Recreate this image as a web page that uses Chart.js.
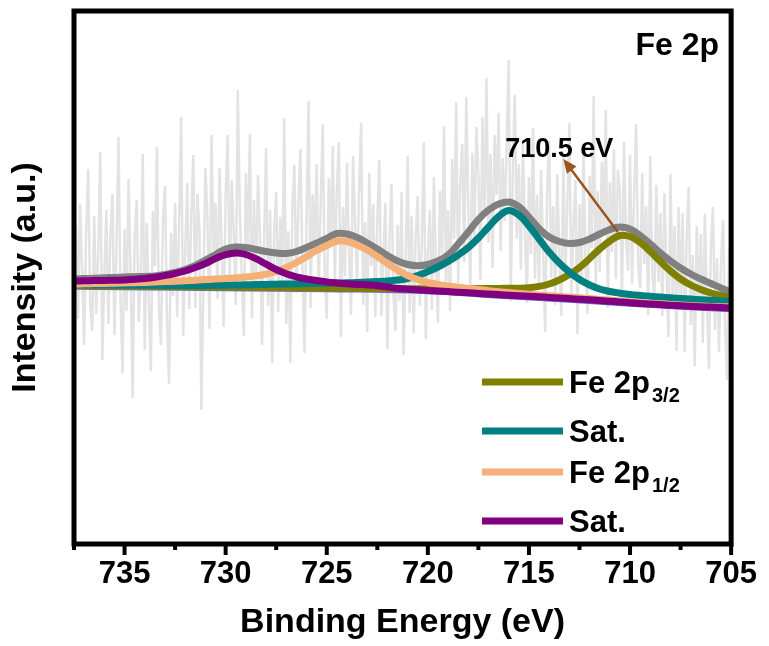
<html>

<head>
    <script src="https://cdn.jsdelivr.net/npm/chart.js@4.4.0/dist/chart.umd.min.js"></script>

    <style>
        body {
            margin: 0;
            background-color: #ffffff;
        }

        canvas {
            display: block;
        }
    </style>

</head>

<body>
    <canvas id="xpsChart" width="769" height="646"></canvas>
</body>
<script>

    // binding energy grid of the fitted curves (eV)
    var fitEnergy = [
        737.5, 737, 736.5, 736, 735.5, 735, 734.5, 734, 733.5, 733,
        732.5, 732, 731.5, 731, 730.5, 730, 729.5, 729, 728.5, 728,
        727.5, 727, 726.5, 726, 725.5, 725, 724.5, 724, 723.5, 723,
        722.5, 722, 721.5, 721, 720.5, 720, 719.5, 719, 718.5, 718,
        717.5, 717, 716.5, 716, 715.5, 715, 714.5, 714, 713.5, 713,
        712.5, 712, 711.5, 711, 710.5, 710, 709.5, 709, 708.5, 708,
        707.5, 707, 706.5, 706, 705.5, 705
    ];

    // fitted envelope (grey)
    var envelope = [
        265, 265.4, 265.8, 266.2, 266.6, 267, 267.3, 267.6, 268, 269.5,
        271.5, 274.5, 278.5, 284, 289.5, 295, 297, 296.5, 294.5, 292.5,
        291, 290.5, 292.5, 296.5, 301, 305.5, 310.5, 310, 306.5, 301,
        295, 288.5, 283, 279.5, 278.3, 279.5, 283, 289, 300, 312,
        324.5, 334, 340, 342, 337.5, 327, 315.5, 307, 302.5, 300.5,
        301.5, 305, 310, 314.5, 317, 315, 308.5, 300, 291, 283,
        276, 270, 265, 260.5, 256, 252
    ];

    // Fe 2p3/2 component
    var fe2p32 = [
        258.5, 258.4, 258.3, 258.2, 258.1, 258, 257.9, 257.8, 257.7, 257.6,
        257.5, 257.4, 257.3, 257.2, 257.1, 257, 256.9, 256.8, 256.7, 256.6,
        256.5, 256.4, 256.3, 256.2, 256.1, 256, 255.9, 255.8, 255.7, 255.6,
        255.5, 255.4, 255.3, 255.2, 255.2, 255.2, 255.2, 255.2, 255.2, 255.3,
        255.4, 255.5, 255.6, 255.7, 255.8, 256.2, 257.6, 260, 264, 269.5,
        276.5, 285.5, 295, 303, 308.5, 307.5, 301.5, 292.5, 282.5, 273,
        265, 259, 254.5, 251, 248.5, 246
    ];

    // satellite of Fe 2p3/2
    var sat32 = [
        259.5, 259.4, 259.3, 259.2, 259.1, 259, 258.9, 258.8, 258.7, 258.6,
        258.6, 258.6, 258.6, 258.6, 258.7, 258.8, 259, 259.2, 259.4, 259.6,
        259.8, 260, 260.2, 260.4, 260.6, 260.8, 261, 261.2, 261.5, 261.9,
        262.4, 263, 264, 265.5, 268.5, 272.5, 277, 282.5, 289, 296.5,
        306, 317, 327.5, 333.5, 329, 318, 305, 292, 281, 272,
        264.5, 259, 255, 252.5, 250.8, 249.6, 248.6, 247.7, 246.9, 246.2,
        245.5, 244.9, 244.3, 243.7, 243.1, 242.5
    ];

    // Fe 2p1/2 component
    var fe2p12 = [
        260, 260.2, 260.4, 260.6, 260.8, 261, 261.3, 261.6, 262, 262.4,
        262.8, 263.3, 263.8, 264.5, 265, 265.5, 266.2, 267, 268.2, 269.8,
        272.5, 276.5, 281.5, 287.5, 293.5, 298.5, 302.8, 302.5, 299, 294,
        287.5, 280.5, 274, 268.5, 264.5, 261.5, 259.5, 258, 256.8, 255.6,
        254.5, 253.3, 252.3, 251.4, 250.6, 249.8, 249, 248.3, 247.6, 247,
        246.2, 245.4, 244.6, 243.8, 243, 242.2, 241.5, 240.8, 240.2, 239.6,
        239, 238.5, 238, 237.6, 237.3, 237
    ];

    // satellite of Fe 2p1/2
    var sat12 = [
        263, 263.2, 263.4, 263.6, 263.8, 264, 264.8, 265.6, 266.8, 268.5,
        270.5, 273, 276.5, 280.5, 285.5, 289.3, 291, 289.5, 285.3, 279.8,
        274.5, 270.3, 267.2, 265, 263.5, 262, 261, 260.2, 259.6, 259,
        258.2, 257, 255.6, 254.8, 254.2, 253.5, 253, 252.4, 251.8, 251.2,
        250.6, 250, 249.4, 248.8, 248.2, 247.7, 247.2, 246.6, 246, 245.4,
        244.8, 244.2, 243.6, 242.8, 242, 241.3, 240.6, 240, 239.4, 238.8,
        238.3, 237.8, 237.3, 236.9, 236.5, 236
    ];

    // background line
    var bgEnergy = [737.5, 730, 725, 720, 716, 713, 710, 707, 705];
    var background = [255, 253.5, 252.5, 250.5, 245.5, 242, 238, 234.5, 232.5];

    // raw spectrum, 0.1 eV steps starting at 737.5 eV
    var rawStart = 737.5;
    var rawStep = 0.1;
    var rawCounts = [
        261, 319, 225, 340, 273, 199, 312, 375, 241, 213,
        328, 230, 293, 392, 184, 269, 334, 220, 307, 350,
        209, 296, 407, 245, 171, 315, 233, 365, 273, 146,
        308, 344, 222, 266, 390, 194, 321, 243, 173, 333,
        278, 397, 236, 199, 325, 358, 224, 160, 311, 248,
        341, 227, 322, 427, 208, 293, 361, 235, 328, 389,
        236, 350, 316, 134, 263, 376, 326, 215, 409, 293,
        341, 245, 376, 298, 217, 350, 409, 263, 364, 311,
        239, 454, 335, 266, 208, 371, 299, 410, 226, 344,
        252, 369, 306, 199, 303, 396, 238, 334, 181, 315,
        352, 232, 327, 259, 426, 220, 313, 181, 339, 379,
        251, 344, 395, 273, 191, 324, 443, 236, 350, 297,
        380, 252, 339, 420, 270, 225, 366, 299, 398, 264,
        355, 402, 207, 337, 268, 381, 295, 229, 388, 322,
        260, 358, 421, 239, 322, 212, 371, 278, 340, 227,
        323, 384, 228, 284, 341, 195, 306, 360, 248, 213,
        319, 243, 352, 189, 282, 388, 231, 328, 211, 309,
        348, 238, 300, 402, 205, 291, 334, 234, 367, 276,
        221, 353, 290, 418, 254, 334, 233, 385, 305, 442,
        261, 360, 400, 282, 447, 339, 255, 391, 306, 417,
        370, 264, 427, 327, 466, 301, 390, 276, 409, 349,
        431, 293, 386, 323, 402, 484, 243, 371, 449, 305,
        380, 274, 401, 314, 241, 367, 290, 416, 265, 349,
        260, 374, 293, 212, 352, 403, 266, 338, 239, 370,
        292, 228, 387, 268, 339, 421, 246, 318, 364, 210,
        340, 263, 391, 277, 230, 368, 296, 448, 256, 353,
        272, 382, 310, 434, 236, 362, 292, 395, 265, 374,
        354, 242, 402, 306, 273, 389, 260, 348, 420, 279,
        256, 371, 280, 338, 229, 388, 272, 241, 359, 262,
        331, 228, 351, 274, 207, 370, 249, 318, 193, 337,
        243, 331, 192, 306, 357, 219, 289, 178, 318, 240,
        310, 201, 330, 243, 175, 298, 337, 214, 286, 192,
        281, 324, 215, 164, 297, 246
    ];

    // peak annotation
    var peakEnergy = 710.6;
    var peakLevel = 312;
    var peakText = '710.5 eV';
    var peakTextEnergy = 713.5;
    var peakTextLevel = 387;

    var legendLabels = [['Fe 2p', '3/2'], ['Sat.', ''], ['Fe 2p', '1/2'], ['Sat.', '']];
    var legendColors = ['#808000', '#008080', '#F5B078', '#800080'];

    var fontFamily = "'Liberation Sans', Arial, sans-serif";


    function toPoints(xs, ys) {
        return ys.map(function (y, i) { return { x: xs[i], y: y }; });
    }

    var rawEnergy = rawCounts.map(function (v, i) { return +(rawStart - i * rawStep).toFixed(1); });


    // frame, ticks, legend and annotations
    var decorations = {
        id: 'decorations',
        afterDraw: function (chart) {
            var ctx = chart.ctx;
            var a = chart.chartArea;
            var xs = chart.scales.x;
            var ys = chart.scales.y;

            ctx.save();
            ctx.strokeStyle = '#000';
            ctx.lineWidth = 5;
            ctx.strokeRect(a.left, a.top, a.right - a.left, a.bottom - a.top);

            // major + minor ticks
            ctx.lineWidth = 4;
            for (var v = 705; v <= 737.5; v += 2.5) {
                var px = xs.getPixelForValue(v);
                var major = v % 5 === 0;
                ctx.beginPath();
                ctx.moveTo(px, a.bottom);
                ctx.lineTo(px, a.bottom + (major ? 11 : 6));
                ctx.stroke();
            }

            // panel label
            ctx.fillStyle = '#000';
            ctx.font = 'bold 32px ' + fontFamily;
            ctx.textAlign = 'right';
            ctx.textBaseline = 'alphabetic';
            ctx.fillText('Fe 2p', a.right - 12, a.top + 44);

            // peak arrow
            var tx = xs.getPixelForValue(peakTextEnergy);
            var ty = ys.getPixelForValue(peakTextLevel);
            ctx.font = 'bold 27px ' + fontFamily;
            ctx.textAlign = 'center';
            ctx.fillText(peakText, tx, ty);

            var x0 = xs.getPixelForValue(peakEnergy), y0 = ys.getPixelForValue(peakLevel);
            var x1 = xs.getPixelForValue(713.3), y1 = ty + 2;
            var ang = Math.atan2(y1 - y0, x1 - x0);
            ctx.strokeStyle = '#99561F';
            ctx.fillStyle = '#99561F';
            ctx.lineWidth = 2.5;
            ctx.beginPath();
            ctx.moveTo(x0, y0);
            ctx.lineTo(x1 - 10 * Math.cos(ang), y1 - 10 * Math.sin(ang));
            ctx.stroke();
            ctx.beginPath();
            ctx.moveTo(x1, y1);
            ctx.lineTo(x1 - 14 * Math.cos(ang) + 6 * Math.sin(ang), y1 - 14 * Math.sin(ang) - 6 * Math.cos(ang));
            ctx.lineTo(x1 - 14 * Math.cos(ang) - 6 * Math.sin(ang), y1 - 14 * Math.sin(ang) + 6 * Math.cos(ang));
            ctx.closePath();
            ctx.fill();

            // legend
            var rowY = [382, 431, 472, 521];
            ctx.textAlign = 'left';
            for (var i = 0; i < legendLabels.length; i++) {
                var y = rowY[i];
                ctx.strokeStyle = legendColors[i];
                ctx.lineWidth = 7;
                ctx.beginPath();
                ctx.moveTo(482, y);
                ctx.lineTo(563, y);
                ctx.stroke();

                ctx.fillStyle = '#000';
                ctx.font = 'bold 31px ' + fontFamily;
                ctx.fillText(legendLabels[i][0], 569, y + 11);
                if (legendLabels[i][1]) {
                    var w = ctx.measureText(legendLabels[i][0]).width;
                    ctx.font = 'bold 20px ' + fontFamily;
                    ctx.fillText(legendLabels[i][1], 569 + w + 2, y + 20);
                }
            }
            ctx.restore();
        }
    };


    function fitLine(label, energies, values, color, width, order) {
        return {
            label: label,
            data: toPoints(energies, values),
            borderColor: color,
            borderWidth: width,
            pointRadius: 0,
            fill: false,
            tension: 0.4,
            order: order
        };
    }

    var chart = new Chart(document.getElementById('xpsChart').getContext('2d'), {
        type: 'line',
        data: {
            datasets: [
                fitLine('Sat.', fitEnergy, sat12, '#800080', 7, 0),
                fitLine('Fe 2p1/2', fitEnergy, fe2p12, '#F5B078', 7, 1),
                fitLine('Sat.', fitEnergy, sat32, '#008080', 7, 2),
                fitLine('Fe 2p3/2', fitEnergy, fe2p32, '#808000', 7, 3),
                fitLine('Envelope', fitEnergy, envelope, '#808080', 7, 4),
                fitLine('Background', bgEnergy, background, '#6A6AD0', 1.5, 5),
                {
                    label: 'Raw',
                    data: toPoints(rawEnergy, rawCounts),
                    borderColor: '#E3E3E3',
                    borderWidth: 2.5,
                    pointRadius: 0,
                    tension: 0,
                    order: 6
                }
            ]
        },
        options: {
            responsive: false,
            animation: false,
            layout: { padding: { top: 11, right: 35, left: 0, bottom: 0 } },
            plugins: {
                legend: { display: false },
                tooltip: { enabled: false }
            },
            scales: {
                x: {
                    type: 'linear',
                    reverse: true,
                    min: 705,
                    max: 737.5,
                    grid: { display: false, drawTicks: false },
                    border: { display: false },
                    afterFit: function (s) { s.height = 102; },
                    ticks: {
                        stepSize: 5,
                        includeBounds: false,
                        autoSkip: false,
                        maxRotation: 0,
                        padding: 12,
                        color: '#000',
                        font: { family: fontFamily, size: 31, weight: 'bold' },
                        callback: function (v) { return v % 5 === 0 ? v : ''; }
                    },
                    title: {
                        display: true,
                        text: 'Binding Energy (eV)',
                        color: '#000',
                        padding: { top: 0, bottom: 3 },
                        font: { family: fontFamily, size: 34, weight: 'bold' }
                    }
                },
                y: {
                    min: 0,
                    max: 533,
                    grid: { display: false },
                    border: { display: false },
                    ticks: { display: false },
                    afterFit: function (s) { s.width = 74; },
                    title: {
                        display: true,
                        text: 'Intensity (a.u.)',
                        color: '#000',
                        padding: { top: 5, bottom: 0 },
                        font: { family: fontFamily, size: 34, weight: 'bold' }
                    }
                }
            }
        },
        plugins: [decorations]
    });

</script>

</html>
